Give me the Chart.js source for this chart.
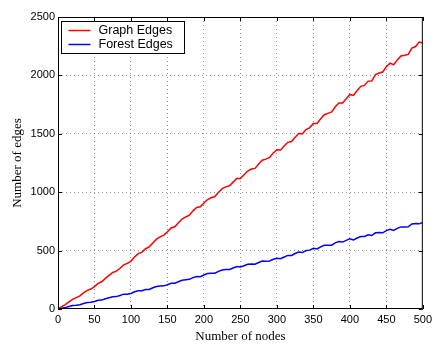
<!DOCTYPE html>
<html><head><meta charset="utf-8">
<script src="https://cdn.jsdelivr.net/npm/chart.js@4/dist/chart.umd.min.js"></script>
<style>html,body{margin:0;padding:0;background:#fff}canvas{display:block}</style>
</head><body>
<canvas id="c" width="436" height="345"></canvas>
<script>
const nodes=[0,5,10,15,20,25,30,35,40,45,50,55,60,65,70,75,80,85,90,95,100,105,110,115,120,125,130,135,140,145,150,155,160,165,170,175,180,185,190,195,200,205,210,215,220,225,230,235,240,245,250,255,260,265,270,275,280,285,290,295,300,305,310,315,320,325,330,335,340,345,350,355,360,365,370,375,380,385,390,395,400,405,410,415,420,425,430,435,440,445,450,455,460,465,470,475,480,485,490,495,500];
const graphEdges=[0,21,37,61,82,97,112,138,160,171,192,219,233,262,288,313,324,349,378,390,410,446,474,487,516,532,566,598,618,633,662,694,704,738,770,788,803,840,869,875,907,937,952,963,999,1030,1046,1055,1086,1117,1118,1149,1181,1198,1204,1242,1274,1283,1297,1335,1364,1361,1396,1427,1434,1470,1502,1500,1536,1553,1589,1588,1629,1663,1675,1687,1731,1763,1763,1800,1837,1828,1870,1906,1914,1951,1952,2007,2020,2029,2075,2105,2091,2133,2166,2172,2180,2234,2247,2286,2278];
const forestEdges=[0,7,12,21,29,32,36,47,55,57,64,74,76,88,97,105,106,115,127,127,133,147,156,156,166,167,182,192,197,198,208,220,220,233,246,250,254,269,279,277,291,303,306,306,322,334,338,338,351,363,359,370,383,386,383,398,410,409,411,426,435,430,445,459,458,475,488,483,500,504,520,514,532,545,546,546,566,577,573,588,602,592,608,621,621,635,629,652,654,652,671,682,672,690,703,703,704,728,731,729,740];
const xTicks=[0,50,100,150,200,250,300,350,400,450,500];
const yTicks=[0,500,1000,1500,2000,2500];
const seriesNames=['Graph Edges','Forest Edges'];
const seriesColors=['#ff0000','#0000ff'];

const tickFont={family:'Liberation Sans, Arial, Helvetica, sans-serif',size:11};
const titleFont={family:'Liberation Serif, Times New Roman, serif',size:13};
const gridColor=(lo,hi)=>c=>(c.tick&&(c.tick.value===lo||c.tick.value===hi))?'rgba(0,0,0,0)':'rgba(0,0,0,0.42)';

const framePlugin={
  id:'frame',
  afterDraw(chart){
    const {ctx,chartArea:a,scales}=chart;
    ctx.save();
    ctx.strokeStyle='#000';ctx.lineWidth=1;
    ctx.strokeRect(a.left+0.5,a.top+0.5,a.right-a.left-1,a.bottom-a.top-1);
    ctx.beginPath();
    xTicks.forEach(v=>{const x=Math.round(scales.x.getPixelForValue(v))+0.5;
      ctx.moveTo(x,a.bottom);ctx.lineTo(x,a.bottom-4);ctx.moveTo(x,a.top);ctx.lineTo(x,a.top+4);});
    yTicks.forEach(v=>{const y=Math.round(scales.y.getPixelForValue(v))+0.5;
      ctx.moveTo(a.left,y);ctx.lineTo(a.left+4,y);ctx.moveTo(a.right,y);ctx.lineTo(a.right-4,y);});
    ctx.stroke();
    const lx=a.left+3.5, ly=a.top+4.5, lw=123, lh=32;
    ctx.fillStyle='#fff';ctx.fillRect(lx,ly,lw,lh);
    ctx.strokeStyle='#000';ctx.strokeRect(lx,ly,lw,lh);
    ctx.font='12.5px Liberation Sans, Arial, Helvetica, sans-serif';
    ctx.textBaseline='middle';ctx.textAlign='left';
    seriesNames.forEach((n,i)=>{
      const yy=ly+9+i*14;
      ctx.strokeStyle=seriesColors[i];ctx.lineWidth=1.5;
      ctx.beginPath();ctx.moveTo(lx+7,yy);ctx.lineTo(lx+29,yy);ctx.stroke();
      ctx.fillStyle='#000';ctx.fillText(n,lx+37,yy+0.5);
    });
    ctx.restore();
  }
};

new Chart(document.getElementById('c'),{
  type:'line',
  data:{datasets:[
    {label:seriesNames[0],data:nodes.map((x,i)=>({x,y:graphEdges[i]})),borderColor:seriesColors[0],borderWidth:1.5,pointRadius:0,tension:0,fill:false},
    {label:seriesNames[1],data:nodes.map((x,i)=>({x,y:forestEdges[i]})),borderColor:seriesColors[1],borderWidth:1.5,pointRadius:0,tension:0,fill:false}
  ]},
  options:{
    responsive:false,animation:false,devicePixelRatio:1,
    layout:{padding:{top:17,right:9,left:0,bottom:0}},
    plugins:{legend:{display:false},tooltip:{enabled:false}},
    scales:{
      x:{type:'linear',min:0,max:500,
        afterBuildTicks:s=>{s.ticks=xTicks.map(v=>({value:v}));},
        afterFit:s=>{s.height=36;},
        ticks:{font:tickFont,color:'#000',padding:4,maxRotation:0,autoSkip:false,callback:v=>String(v)},
        grid:{drawTicks:false,color:gridColor(0,500),lineWidth:1},
        border:{display:false,dash:[1,3]},
        title:{display:true,text:'Number of nodes',font:titleFont,color:'#000',padding:{top:0,bottom:1}}},
      y:{type:'linear',min:0,max:2500,
        afterBuildTicks:s=>{s.ticks=yTicks.map(v=>({value:v}));},
        afterFit:s=>{s.width=58;},
        ticks:{font:tickFont,color:'#000',padding:3,autoSkip:false,callback:v=>String(v)},
        grid:{drawTicks:false,color:gridColor(0,2500),lineWidth:1},
        border:{display:false,dash:[1,3]},
        title:{display:true,text:'Number of edges',font:titleFont,color:'#000',padding:{top:10,bottom:0}}}
    }
  },
  plugins:[framePlugin]
});
</script>
</body></html>
